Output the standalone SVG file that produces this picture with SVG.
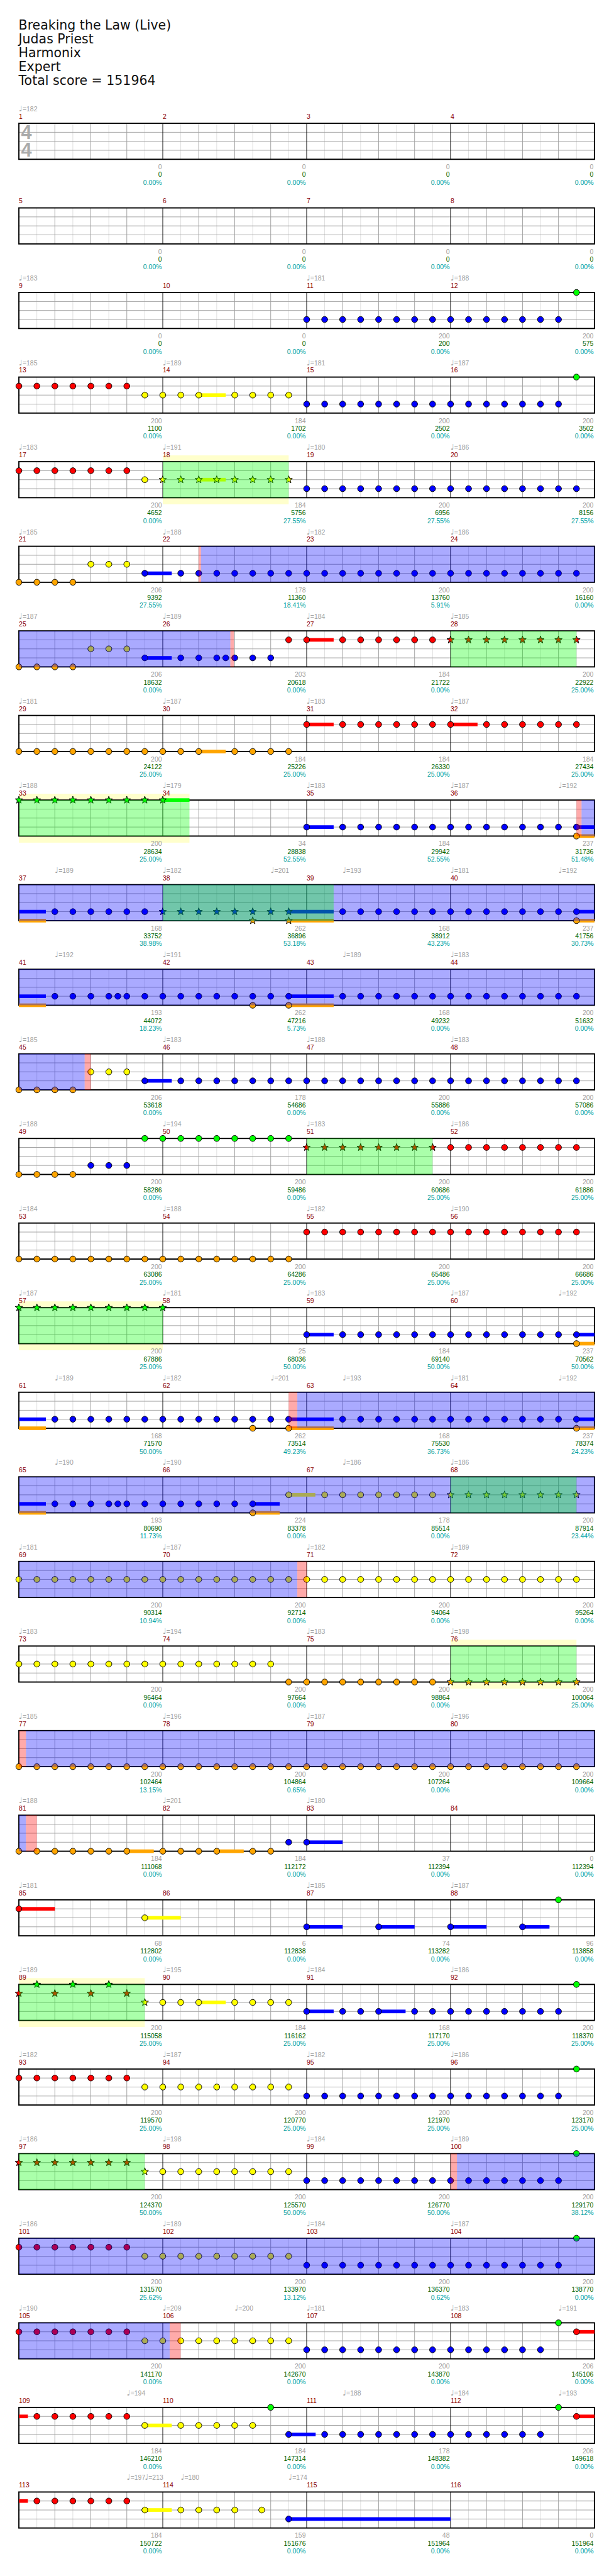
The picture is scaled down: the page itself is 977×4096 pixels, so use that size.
<svg xmlns="http://www.w3.org/2000/svg" xmlns:xlink="http://www.w3.org/1999/xlink" width="977" height="4096" viewBox="0 0 977 4096">
<style>
text{font-family:"Liberation Sans",Arial,sans-serif;font-size:11px}
.ti{font-family:"DejaVu Sans",sans-serif;font-size:21.5px;fill:#111}
.ts{font-family:"Liberation Sans",Arial,sans-serif;font-weight:bold;font-size:32px;fill:#aaa}
.tp{fill:#a0a0a0}
.q{font-family:"DejaVu Sans",sans-serif;font-size:13px}
.mn{fill:#8b0000}
.bn text{text-anchor:end}
.p1{fill:#a0a0a0}.p2{fill:#006400}.p3{fill:#00a0a0}
.nt circle,.nt use{stroke:#000;stroke-width:1}
.g{fill:#0f0}.r{fill:#f00}.y{fill:#ff0}.b{fill:#00f}.o{fill:#ffa500}
.og{fill:#0f0;fill-opacity:.333}.ob{fill:#00f;fill-opacity:.333}.op{fill:#f00;fill-opacity:.333}.yb{fill:#ffc}
</style>
<defs>
<g id="staff">
<rect width="960" height="60" fill="#fff"/>
<path d="M30 0V60M90 0V60M150 0V60M210 0V60M270 0V60M330 0V60M390 0V60M450 0V60M510 0V60M570 0V60M630 0V60M690 0V60M750 0V60M810 0V60M870 0V60M930 0V60" stroke="#dcdcdc"/>
<path d="M60 0V60M120 0V60M180 0V60M300 0V60M360 0V60M420 0V60M540 0V60M600 0V60M660 0V60M780 0V60M840 0V60M900 0V60M0 15H960M0 30H960M0 45H960" stroke="#a0a0a0"/>
<path d="M240 0V60M480 0V60M720 0V60" stroke="#000"/>
<rect width="960" height="60" fill="none" stroke="#000" stroke-width="2"/>
</g>
<path id="st" d="M0 -6.5L1.59 -2.18L6.18 -2.01L2.57 0.83L3.82 5.26L0 2.7L-3.82 5.26L-2.57 0.83L-6.18 -2.01L-1.59 -2.18Z"/>
</defs>
<rect width="977" height="4096" fill="#fff"/>
<g transform="scale(0.954)">
<g id="title" class="ti"><text class="ti" x="31" y="49.5">Breaking the Law (Live)</text><text class="ti" x="31" y="72.5">Judas Priest</text><text class="ti" x="31" y="95.5">Harmonix</text><text class="ti" x="31" y="118.5">Expert</text><text class="ti" x="31" y="141.5">Total score = 151964</text></g>

<g id="row1" transform="translate(31.5,205.5)">
<use href="#staff"/>
<text class="ts" x="3.5" y="26">4</text><text class="ts" x="3.5" y="56">4</text>
<text class="tp" x="0" y="-20"><tspan class="q">♩</tspan>=182</text>
<text class="mn" x="0" y="-7.5">1</text><text class="mn" x="240" y="-7.5">2</text><text class="mn" x="480" y="-7.5">3</text><text class="mn" x="720" y="-7.5">4</text>
<g class="bn"><text class="p1" x="238.5" y="76.5">0</text><text class="p2" x="238.5" y="89.5">0</text><text class="p3" x="238.5" y="102.5">0.00%</text><text class="p1" x="478.5" y="76.5">0</text><text class="p2" x="478.5" y="89.5">0</text><text class="p3" x="478.5" y="102.5">0.00%</text><text class="p1" x="718.5" y="76.5">0</text><text class="p2" x="718.5" y="89.5">0</text><text class="p3" x="718.5" y="102.5">0.00%</text><text class="p1" x="958.5" y="76.5">0</text><text class="p2" x="958.5" y="89.5">0</text><text class="p3" x="958.5" y="102.5">0.00%</text></g>
</g>

<g id="row2" transform="translate(31.5,346.5)">
<use href="#staff"/>
<text class="mn" x="0" y="-7.5">5</text><text class="mn" x="240" y="-7.5">6</text><text class="mn" x="480" y="-7.5">7</text><text class="mn" x="720" y="-7.5">8</text>
<g class="bn"><text class="p1" x="238.5" y="76.5">0</text><text class="p2" x="238.5" y="89.5">0</text><text class="p3" x="238.5" y="102.5">0.00%</text><text class="p1" x="478.5" y="76.5">0</text><text class="p2" x="478.5" y="89.5">0</text><text class="p3" x="478.5" y="102.5">0.00%</text><text class="p1" x="718.5" y="76.5">0</text><text class="p2" x="718.5" y="89.5">0</text><text class="p3" x="718.5" y="102.5">0.00%</text><text class="p1" x="958.5" y="76.5">0</text><text class="p2" x="958.5" y="89.5">0</text><text class="p3" x="958.5" y="102.5">0.00%</text></g>
</g>

<g id="row3" transform="translate(31.5,487.5)">
<use href="#staff"/>
<g class="nt">
<g class="b" transform="translate(0,45)"><circle cx="480" r="5"/><circle cx="510" r="5"/><circle cx="540" r="5"/><circle cx="570" r="5"/><circle cx="600" r="5"/><circle cx="630" r="5"/><circle cx="660" r="5"/><circle cx="690" r="5"/><circle cx="720" r="5"/><circle cx="750" r="5"/><circle cx="780" r="5"/><circle cx="810" r="5"/><circle cx="840" r="5"/><circle cx="870" r="5"/><circle cx="900" r="5"/></g>
<g class="g"><circle cx="930" r="5"/></g>
</g>
<text class="tp" x="0" y="-20"><tspan class="q">♩</tspan>=183</text><text class="tp" x="480" y="-20"><tspan class="q">♩</tspan>=181</text><text class="tp" x="720" y="-20"><tspan class="q">♩</tspan>=188</text>
<text class="mn" x="0" y="-7.5">9</text><text class="mn" x="240" y="-7.5">10</text><text class="mn" x="480" y="-7.5">11</text><text class="mn" x="720" y="-7.5">12</text>
<g class="bn"><text class="p1" x="238.5" y="76.5">0</text><text class="p2" x="238.5" y="89.5">0</text><text class="p3" x="238.5" y="102.5">0.00%</text><text class="p1" x="478.5" y="76.5">0</text><text class="p2" x="478.5" y="89.5">0</text><text class="p3" x="478.5" y="102.5">0.00%</text><text class="p1" x="718.5" y="76.5">200</text><text class="p2" x="718.5" y="89.5">200</text><text class="p3" x="718.5" y="102.5">0.00%</text><text class="p1" x="958.5" y="76.5">200</text><text class="p2" x="958.5" y="89.5">575</text><text class="p3" x="958.5" y="102.5">0.00%</text></g>
</g>

<g id="row4" transform="translate(31.5,628.5)">
<use href="#staff"/>
<rect class="y" x="300" y="27" width="45" height="6"/>
<g class="nt">
<g class="r" transform="translate(0,15)"><circle cx="0" r="5"/><circle cx="30" r="5"/><circle cx="60" r="5"/><circle cx="90" r="5"/><circle cx="120" r="5"/><circle cx="150" r="5"/><circle cx="180" r="5"/></g>
<g class="y" transform="translate(0,30)"><circle cx="210" r="5"/><circle cx="240" r="5"/><circle cx="270" r="5"/><circle cx="300" r="5"/><circle cx="360" r="5"/><circle cx="390" r="5"/><circle cx="420" r="5"/><circle cx="450" r="5"/></g>
<g class="b" transform="translate(0,45)"><circle cx="480" r="5"/><circle cx="510" r="5"/><circle cx="540" r="5"/><circle cx="570" r="5"/><circle cx="600" r="5"/><circle cx="630" r="5"/><circle cx="660" r="5"/><circle cx="690" r="5"/><circle cx="720" r="5"/><circle cx="750" r="5"/><circle cx="780" r="5"/><circle cx="810" r="5"/><circle cx="840" r="5"/><circle cx="870" r="5"/><circle cx="900" r="5"/></g>
<g class="g"><circle cx="930" r="5"/></g>
</g>
<text class="tp" x="0" y="-20"><tspan class="q">♩</tspan>=185</text><text class="tp" x="240" y="-20"><tspan class="q">♩</tspan>=189</text><text class="tp" x="480" y="-20"><tspan class="q">♩</tspan>=181</text><text class="tp" x="720" y="-20"><tspan class="q">♩</tspan>=187</text>
<text class="mn" x="0" y="-7.5">13</text><text class="mn" x="240" y="-7.5">14</text><text class="mn" x="480" y="-7.5">15</text><text class="mn" x="720" y="-7.5">16</text>
<g class="bn"><text class="p1" x="238.5" y="76.5">200</text><text class="p2" x="238.5" y="89.5">1100</text><text class="p3" x="238.5" y="102.5">0.00%</text><text class="p1" x="478.5" y="76.5">184</text><text class="p2" x="478.5" y="89.5">1702</text><text class="p3" x="478.5" y="102.5">0.00%</text><text class="p1" x="718.5" y="76.5">200</text><text class="p2" x="718.5" y="89.5">2502</text><text class="p3" x="718.5" y="102.5">0.00%</text><text class="p1" x="958.5" y="76.5">200</text><text class="p2" x="958.5" y="89.5">3502</text><text class="p3" x="958.5" y="102.5">0.00%</text></g>
</g>

<g id="row5" transform="translate(31.5,769.5)">
<rect class="yb" x="240" y="-10.5" width="210" height="81.5"/>
<use href="#staff"/>
<rect class="y" x="300" y="27" width="45" height="6"/>
<g class="nt">
<g class="r" transform="translate(0,15)"><circle cx="0" r="5"/><circle cx="30" r="5"/><circle cx="60" r="5"/><circle cx="90" r="5"/><circle cx="120" r="5"/><circle cx="150" r="5"/><circle cx="180" r="5"/></g>
<g class="y" transform="translate(0,30)"><circle cx="210" r="5"/><use href="#st" x="240"/><use href="#st" x="270"/><use href="#st" x="300"/><use href="#st" x="330"/><use href="#st" x="360"/><use href="#st" x="390"/><use href="#st" x="420"/><use href="#st" x="450"/></g>
<g class="b" transform="translate(0,45)"><circle cx="480" r="5"/><circle cx="510" r="5"/><circle cx="540" r="5"/><circle cx="570" r="5"/><circle cx="600" r="5"/><circle cx="630" r="5"/><circle cx="660" r="5"/><circle cx="690" r="5"/><circle cx="720" r="5"/><circle cx="750" r="5"/><circle cx="780" r="5"/><circle cx="810" r="5"/><circle cx="840" r="5"/><circle cx="870" r="5"/><circle cx="900" r="5"/><circle cx="930" r="5"/></g>
</g>
<rect class="og" x="240" y="0" width="210" height="60"/>
<text class="tp" x="0" y="-20"><tspan class="q">♩</tspan>=183</text><text class="tp" x="240" y="-20"><tspan class="q">♩</tspan>=191</text><text class="tp" x="480" y="-20"><tspan class="q">♩</tspan>=180</text><text class="tp" x="720" y="-20"><tspan class="q">♩</tspan>=186</text>
<text class="mn" x="0" y="-7.5">17</text><text class="mn" x="240" y="-7.5">18</text><text class="mn" x="480" y="-7.5">19</text><text class="mn" x="720" y="-7.5">20</text>
<g class="bn"><text class="p1" x="238.5" y="76.5">200</text><text class="p2" x="238.5" y="89.5">4652</text><text class="p3" x="238.5" y="102.5">0.00%</text><text class="p1" x="478.5" y="76.5">184</text><text class="p2" x="478.5" y="89.5">5756</text><text class="p3" x="478.5" y="102.5">27.55%</text><text class="p1" x="718.5" y="76.5">200</text><text class="p2" x="718.5" y="89.5">6956</text><text class="p3" x="718.5" y="102.5">27.55%</text><text class="p1" x="958.5" y="76.5">200</text><text class="p2" x="958.5" y="89.5">8156</text><text class="p3" x="958.5" y="102.5">27.55%</text></g>
</g>

<g id="row6" transform="translate(31.5,910.5)">
<use href="#staff"/>
<rect class="b" x="210" y="42" width="45" height="6"/>
<g class="nt">
<g class="y" transform="translate(0,30)"><circle cx="120" r="5"/><circle cx="150" r="5"/><circle cx="180" r="5"/></g>
<g class="b" transform="translate(0,45)"><circle cx="210" r="5"/><circle cx="270" r="5"/><circle cx="300" r="5"/><circle cx="330" r="5"/><circle cx="360" r="5"/><circle cx="390" r="5"/><circle cx="420" r="5"/><circle cx="450" r="5"/><circle cx="480" r="5"/><circle cx="510" r="5"/><circle cx="540" r="5"/><circle cx="570" r="5"/><circle cx="600" r="5"/><circle cx="630" r="5"/><circle cx="660" r="5"/><circle cx="690" r="5"/><circle cx="720" r="5"/><circle cx="750" r="5"/><circle cx="780" r="5"/><circle cx="810" r="5"/><circle cx="840" r="5"/><circle cx="870" r="5"/><circle cx="900" r="5"/><circle cx="930" r="5"/></g>
<g class="o" transform="translate(0,60)"><circle cx="0" r="5"/><circle cx="30" r="5"/><circle cx="60" r="5"/><circle cx="90" r="5"/></g>
</g>
<rect class="op" x="299.8" y="0" width="3.9" height="60"/><rect class="ob" x="303.7" y="0" width="656.3" height="60"/>
<text class="tp" x="0" y="-20"><tspan class="q">♩</tspan>=185</text><text class="tp" x="240" y="-20"><tspan class="q">♩</tspan>=188</text><text class="tp" x="480" y="-20"><tspan class="q">♩</tspan>=182</text><text class="tp" x="720" y="-20"><tspan class="q">♩</tspan>=186</text>
<text class="mn" x="0" y="-7.5">21</text><text class="mn" x="240" y="-7.5">22</text><text class="mn" x="480" y="-7.5">23</text><text class="mn" x="720" y="-7.5">24</text>
<g class="bn"><text class="p1" x="238.5" y="76.5">206</text><text class="p2" x="238.5" y="89.5">9392</text><text class="p3" x="238.5" y="102.5">27.55%</text><text class="p1" x="478.5" y="76.5">178</text><text class="p2" x="478.5" y="89.5">11360</text><text class="p3" x="478.5" y="102.5">18.41%</text><text class="p1" x="718.5" y="76.5">200</text><text class="p2" x="718.5" y="89.5">13760</text><text class="p3" x="718.5" y="102.5">5.91%</text><text class="p1" x="958.5" y="76.5">200</text><text class="p2" x="958.5" y="89.5">16160</text><text class="p3" x="958.5" y="102.5">0.00%</text></g>
</g>

<g id="row7" transform="translate(31.5,1051.5)">
<use href="#staff"/>
<rect class="b" x="210" y="42" width="45" height="6"/><rect class="r" x="480" y="12" width="45" height="6"/>
<g class="nt">
<g class="r" transform="translate(0,15)"><circle cx="450" r="5"/><circle cx="480" r="5"/><circle cx="540" r="5"/><circle cx="570" r="5"/><circle cx="600" r="5"/><circle cx="630" r="5"/><circle cx="660" r="5"/><circle cx="690" r="5"/><use href="#st" x="720"/><use href="#st" x="750"/><use href="#st" x="780"/><use href="#st" x="810"/><use href="#st" x="840"/><use href="#st" x="870"/><use href="#st" x="900"/><use href="#st" x="930"/></g>
<g class="y" transform="translate(0,30)"><circle cx="120" r="5"/><circle cx="150" r="5"/><circle cx="180" r="5"/></g>
<g class="b" transform="translate(0,45)"><circle cx="210" r="5"/><circle cx="270" r="5"/><circle cx="300" r="5"/><circle cx="330" r="5"/><circle cx="345" r="5"/><circle cx="360" r="5"/><circle cx="390" r="5"/><circle cx="420" r="5"/></g>
<g class="o" transform="translate(0,60)"><circle cx="0" r="5"/><circle cx="30" r="5"/><circle cx="60" r="5"/><circle cx="90" r="5"/></g>
</g>
<rect class="ob" x="0" y="0" width="352.7" height="60"/><rect class="op" x="352.7" y="0" width="5.8" height="60"/><rect class="og" x="720" y="0" width="210" height="60"/>
<text class="tp" x="0" y="-20"><tspan class="q">♩</tspan>=187</text><text class="tp" x="240" y="-20"><tspan class="q">♩</tspan>=189</text><text class="tp" x="480" y="-20"><tspan class="q">♩</tspan>=184</text><text class="tp" x="720" y="-20"><tspan class="q">♩</tspan>=185</text>
<text class="mn" x="0" y="-7.5">25</text><text class="mn" x="240" y="-7.5">26</text><text class="mn" x="480" y="-7.5">27</text><text class="mn" x="720" y="-7.5">28</text>
<g class="bn"><text class="p1" x="238.5" y="76.5">206</text><text class="p2" x="238.5" y="89.5">18632</text><text class="p3" x="238.5" y="102.5">0.00%</text><text class="p1" x="478.5" y="76.5">203</text><text class="p2" x="478.5" y="89.5">20618</text><text class="p3" x="478.5" y="102.5">0.00%</text><text class="p1" x="718.5" y="76.5">184</text><text class="p2" x="718.5" y="89.5">21722</text><text class="p3" x="718.5" y="102.5">0.00%</text><text class="p1" x="958.5" y="76.5">200</text><text class="p2" x="958.5" y="89.5">22922</text><text class="p3" x="958.5" y="102.5">25.00%</text></g>
</g>

<g id="row8" transform="translate(31.5,1192.5)">
<use href="#staff"/>
<rect class="o" x="300" y="57" width="45" height="6"/><rect class="r" x="480" y="12" width="45" height="6"/><rect class="r" x="720" y="12" width="45" height="6"/>
<g class="nt">
<g class="r" transform="translate(0,15)"><circle cx="480" r="5"/><circle cx="540" r="5"/><circle cx="570" r="5"/><circle cx="600" r="5"/><circle cx="630" r="5"/><circle cx="660" r="5"/><circle cx="690" r="5"/><circle cx="720" r="5"/><circle cx="780" r="5"/><circle cx="810" r="5"/><circle cx="840" r="5"/><circle cx="870" r="5"/><circle cx="900" r="5"/><circle cx="930" r="5"/></g>
<g class="o" transform="translate(0,60)"><circle cx="0" r="5"/><circle cx="30" r="5"/><circle cx="60" r="5"/><circle cx="90" r="5"/><circle cx="120" r="5"/><circle cx="150" r="5"/><circle cx="180" r="5"/><circle cx="210" r="5"/><circle cx="240" r="5"/><circle cx="270" r="5"/><circle cx="300" r="5"/><circle cx="360" r="5"/><circle cx="390" r="5"/><circle cx="420" r="5"/><circle cx="450" r="5"/></g>
</g>
<text class="tp" x="0" y="-20"><tspan class="q">♩</tspan>=181</text><text class="tp" x="240" y="-20"><tspan class="q">♩</tspan>=187</text><text class="tp" x="480" y="-20"><tspan class="q">♩</tspan>=183</text><text class="tp" x="720" y="-20"><tspan class="q">♩</tspan>=187</text>
<text class="mn" x="0" y="-7.5">29</text><text class="mn" x="240" y="-7.5">30</text><text class="mn" x="480" y="-7.5">31</text><text class="mn" x="720" y="-7.5">32</text>
<g class="bn"><text class="p1" x="238.5" y="76.5">200</text><text class="p2" x="238.5" y="89.5">24122</text><text class="p3" x="238.5" y="102.5">25.00%</text><text class="p1" x="478.5" y="76.5">184</text><text class="p2" x="478.5" y="89.5">25226</text><text class="p3" x="478.5" y="102.5">25.00%</text><text class="p1" x="718.5" y="76.5">184</text><text class="p2" x="718.5" y="89.5">26330</text><text class="p3" x="718.5" y="102.5">25.00%</text><text class="p1" x="958.5" y="76.5">184</text><text class="p2" x="958.5" y="89.5">27434</text><text class="p3" x="958.5" y="102.5">25.00%</text></g>
</g>

<g id="row9" transform="translate(31.5,1333.5)">
<rect class="yb" x="0" y="-10.5" width="284.5" height="81.5"/>
<use href="#staff"/>
<rect class="g" x="240" y="-3" width="44.5" height="6"/><rect class="b" x="480" y="42" width="45" height="6"/><rect class="b" x="930" y="42" width="30" height="6"/><rect class="o" x="930" y="57" width="30" height="6"/>
<g class="nt">
<g class="g"><use href="#st" x="0"/><use href="#st" x="30"/><use href="#st" x="60"/><use href="#st" x="90"/><use href="#st" x="120"/><use href="#st" x="150"/><use href="#st" x="180"/><use href="#st" x="210"/><use href="#st" x="240"/></g>
<g class="b" transform="translate(0,45)"><circle cx="480" r="5"/><circle cx="540" r="5"/><circle cx="570" r="5"/><circle cx="600" r="5"/><circle cx="630" r="5"/><circle cx="660" r="5"/><circle cx="690" r="5"/><circle cx="720" r="5"/><circle cx="750" r="5"/><circle cx="780" r="5"/><circle cx="810" r="5"/><circle cx="840" r="5"/><circle cx="870" r="5"/><circle cx="900" r="5"/><circle cx="930" r="5"/></g>
<g class="o" transform="translate(0,60)"><circle cx="930" r="5"/></g>
</g>
<rect class="og" x="0" y="0" width="284.5" height="60"/><rect class="op" x="930" y="0" width="8.5" height="60"/><rect class="ob" x="938.5" y="0" width="21.5" height="60"/>
<text class="tp" x="0" y="-20"><tspan class="q">♩</tspan>=188</text><text class="tp" x="240" y="-20"><tspan class="q">♩</tspan>=179</text><text class="tp" x="480" y="-20"><tspan class="q">♩</tspan>=183</text><text class="tp" x="720" y="-20"><tspan class="q">♩</tspan>=187</text><text class="tp" x="900" y="-20"><tspan class="q">♩</tspan>=192</text>
<text class="mn" x="0" y="-7.5">33</text><text class="mn" x="240" y="-7.5">34</text><text class="mn" x="480" y="-7.5">35</text><text class="mn" x="720" y="-7.5">36</text>
<g class="bn"><text class="p1" x="238.5" y="76.5">200</text><text class="p2" x="238.5" y="89.5">28634</text><text class="p3" x="238.5" y="102.5">25.00%</text><text class="p1" x="478.5" y="76.5">34</text><text class="p2" x="478.5" y="89.5">28838</text><text class="p3" x="478.5" y="102.5">52.55%</text><text class="p1" x="718.5" y="76.5">184</text><text class="p2" x="718.5" y="89.5">29942</text><text class="p3" x="718.5" y="102.5">52.55%</text><text class="p1" x="958.5" y="76.5">237</text><text class="p2" x="958.5" y="89.5">31736</text><text class="p3" x="958.5" y="102.5">51.48%</text></g>
</g>

<g id="row10" transform="translate(31.5,1474.5)">
<use href="#staff"/>
<rect class="b" x="0" y="42" width="45" height="6"/><rect class="o" x="0" y="57" width="45" height="6"/><rect class="b" x="450" y="42" width="75" height="6"/><rect class="o" x="450" y="57" width="75" height="6"/><rect class="b" x="930" y="42" width="30" height="6"/><rect class="o" x="930" y="57" width="30" height="6"/>
<g class="nt">
<g class="b" transform="translate(0,45)"><circle cx="60" r="5"/><circle cx="90" r="5"/><circle cx="120" r="5"/><circle cx="150" r="5"/><circle cx="180" r="5"/><circle cx="210" r="5"/><use href="#st" x="240"/><use href="#st" x="270"/><use href="#st" x="300"/><use href="#st" x="330"/><use href="#st" x="360"/><use href="#st" x="390"/><use href="#st" x="420"/><use href="#st" x="450"/><circle cx="540" r="5"/><circle cx="570" r="5"/><circle cx="600" r="5"/><circle cx="630" r="5"/><circle cx="660" r="5"/><circle cx="690" r="5"/><circle cx="720" r="5"/><circle cx="750" r="5"/><circle cx="780" r="5"/><circle cx="810" r="5"/><circle cx="840" r="5"/><circle cx="870" r="5"/><circle cx="900" r="5"/><circle cx="930" r="5"/></g>
<g class="o" transform="translate(0,60)"><use href="#st" x="390"/><use href="#st" x="450"/><circle cx="930" r="5"/></g>
</g>
<rect class="ob" x="0" y="0" width="960" height="60"/><rect class="og" x="240" y="0" width="285" height="60"/>
<text class="tp" x="60" y="-20"><tspan class="q">♩</tspan>=189</text><text class="tp" x="240" y="-20"><tspan class="q">♩</tspan>=182</text><text class="tp" x="420" y="-20"><tspan class="q">♩</tspan>=201</text><text class="tp" x="540" y="-20"><tspan class="q">♩</tspan>=193</text><text class="tp" x="720" y="-20"><tspan class="q">♩</tspan>=181</text><text class="tp" x="900" y="-20"><tspan class="q">♩</tspan>=192</text>
<text class="mn" x="0" y="-7.5">37</text><text class="mn" x="240" y="-7.5">38</text><text class="mn" x="480" y="-7.5">39</text><text class="mn" x="720" y="-7.5">40</text>
<g class="bn"><text class="p1" x="238.5" y="76.5">168</text><text class="p2" x="238.5" y="89.5">33752</text><text class="p3" x="238.5" y="102.5">38.98%</text><text class="p1" x="478.5" y="76.5">262</text><text class="p2" x="478.5" y="89.5">36896</text><text class="p3" x="478.5" y="102.5">53.18%</text><text class="p1" x="718.5" y="76.5">168</text><text class="p2" x="718.5" y="89.5">38912</text><text class="p3" x="718.5" y="102.5">43.23%</text><text class="p1" x="958.5" y="76.5">237</text><text class="p2" x="958.5" y="89.5">41756</text><text class="p3" x="958.5" y="102.5">30.73%</text></g>
</g>

<g id="row11" transform="translate(31.5,1615.5)">
<use href="#staff"/>
<rect class="b" x="0" y="42" width="45" height="6"/><rect class="o" x="0" y="57" width="45" height="6"/><rect class="b" x="450" y="42" width="75" height="6"/><rect class="o" x="450" y="57" width="75" height="6"/>
<g class="nt">
<g class="b" transform="translate(0,45)"><circle cx="60" r="5"/><circle cx="90" r="5"/><circle cx="120" r="5"/><circle cx="150" r="5"/><circle cx="165" r="5"/><circle cx="180" r="5"/><circle cx="210" r="5"/><circle cx="240" r="5"/><circle cx="270" r="5"/><circle cx="300" r="5"/><circle cx="330" r="5"/><circle cx="360" r="5"/><circle cx="390" r="5"/><circle cx="420" r="5"/><circle cx="450" r="5"/><circle cx="540" r="5"/><circle cx="570" r="5"/><circle cx="600" r="5"/><circle cx="630" r="5"/><circle cx="660" r="5"/><circle cx="690" r="5"/><circle cx="720" r="5"/><circle cx="750" r="5"/><circle cx="780" r="5"/><circle cx="810" r="5"/><circle cx="840" r="5"/><circle cx="870" r="5"/><circle cx="900" r="5"/><circle cx="930" r="5"/></g>
<g class="o" transform="translate(0,60)"><circle cx="390" r="5"/><circle cx="450" r="5"/></g>
</g>
<rect class="ob" x="0" y="0" width="960" height="60"/>
<text class="tp" x="60" y="-20"><tspan class="q">♩</tspan>=192</text><text class="tp" x="240" y="-20"><tspan class="q">♩</tspan>=191</text><text class="tp" x="540" y="-20"><tspan class="q">♩</tspan>=189</text><text class="tp" x="720" y="-20"><tspan class="q">♩</tspan>=183</text>
<text class="mn" x="0" y="-7.5">41</text><text class="mn" x="240" y="-7.5">42</text><text class="mn" x="480" y="-7.5">43</text><text class="mn" x="720" y="-7.5">44</text>
<g class="bn"><text class="p1" x="238.5" y="76.5">193</text><text class="p2" x="238.5" y="89.5">44072</text><text class="p3" x="238.5" y="102.5">18.23%</text><text class="p1" x="478.5" y="76.5">262</text><text class="p2" x="478.5" y="89.5">47216</text><text class="p3" x="478.5" y="102.5">5.73%</text><text class="p1" x="718.5" y="76.5">168</text><text class="p2" x="718.5" y="89.5">49232</text><text class="p3" x="718.5" y="102.5">0.00%</text><text class="p1" x="958.5" y="76.5">200</text><text class="p2" x="958.5" y="89.5">51632</text><text class="p3" x="958.5" y="102.5">0.00%</text></g>
</g>

<g id="row12" transform="translate(31.5,1756.5)">
<use href="#staff"/>
<rect class="b" x="210" y="42" width="45" height="6"/>
<g class="nt">
<g class="y" transform="translate(0,30)"><circle cx="120" r="5"/><circle cx="150" r="5"/><circle cx="180" r="5"/></g>
<g class="b" transform="translate(0,45)"><circle cx="210" r="5"/><circle cx="270" r="5"/><circle cx="300" r="5"/><circle cx="330" r="5"/><circle cx="360" r="5"/><circle cx="390" r="5"/><circle cx="420" r="5"/><circle cx="450" r="5"/><circle cx="480" r="5"/><circle cx="510" r="5"/><circle cx="540" r="5"/><circle cx="570" r="5"/><circle cx="600" r="5"/><circle cx="630" r="5"/><circle cx="660" r="5"/><circle cx="690" r="5"/><circle cx="720" r="5"/><circle cx="750" r="5"/><circle cx="780" r="5"/><circle cx="810" r="5"/><circle cx="840" r="5"/><circle cx="870" r="5"/><circle cx="900" r="5"/><circle cx="930" r="5"/></g>
<g class="o" transform="translate(0,60)"><circle cx="0" r="5"/><circle cx="30" r="5"/><circle cx="60" r="5"/><circle cx="90" r="5"/></g>
</g>
<rect class="ob" x="0" y="0" width="109.7" height="60"/><rect class="op" x="109.7" y="0" width="10.3" height="60"/>
<text class="tp" x="0" y="-20"><tspan class="q">♩</tspan>=185</text><text class="tp" x="240" y="-20"><tspan class="q">♩</tspan>=183</text><text class="tp" x="480" y="-20"><tspan class="q">♩</tspan>=188</text><text class="tp" x="720" y="-20"><tspan class="q">♩</tspan>=183</text>
<text class="mn" x="0" y="-7.5">45</text><text class="mn" x="240" y="-7.5">46</text><text class="mn" x="480" y="-7.5">47</text><text class="mn" x="720" y="-7.5">48</text>
<g class="bn"><text class="p1" x="238.5" y="76.5">206</text><text class="p2" x="238.5" y="89.5">53618</text><text class="p3" x="238.5" y="102.5">0.00%</text><text class="p1" x="478.5" y="76.5">178</text><text class="p2" x="478.5" y="89.5">54686</text><text class="p3" x="478.5" y="102.5">0.00%</text><text class="p1" x="718.5" y="76.5">200</text><text class="p2" x="718.5" y="89.5">55886</text><text class="p3" x="718.5" y="102.5">0.00%</text><text class="p1" x="958.5" y="76.5">200</text><text class="p2" x="958.5" y="89.5">57086</text><text class="p3" x="958.5" y="102.5">0.00%</text></g>
</g>

<g id="row13" transform="translate(31.5,1897.5)">
<use href="#staff"/>
<g class="nt">
<g class="g"><circle cx="210" r="5"/><circle cx="240" r="5"/><circle cx="270" r="5"/><circle cx="300" r="5"/><circle cx="330" r="5"/><circle cx="360" r="5"/><circle cx="390" r="5"/><circle cx="420" r="5"/><circle cx="450" r="5"/></g>
<g class="r" transform="translate(0,15)"><use href="#st" x="480"/><use href="#st" x="510"/><use href="#st" x="540"/><use href="#st" x="570"/><use href="#st" x="600"/><use href="#st" x="630"/><use href="#st" x="660"/><use href="#st" x="690"/><circle cx="720" r="5"/><circle cx="750" r="5"/><circle cx="780" r="5"/><circle cx="810" r="5"/><circle cx="840" r="5"/><circle cx="870" r="5"/><circle cx="900" r="5"/><circle cx="930" r="5"/></g>
<g class="b" transform="translate(0,45)"><circle cx="120" r="5"/><circle cx="150" r="5"/><circle cx="180" r="5"/></g>
<g class="o" transform="translate(0,60)"><circle cx="0" r="5"/><circle cx="30" r="5"/><circle cx="60" r="5"/><circle cx="90" r="5"/></g>
</g>
<rect class="og" x="480" y="0" width="210" height="60"/>
<text class="tp" x="0" y="-20"><tspan class="q">♩</tspan>=188</text><text class="tp" x="240" y="-20"><tspan class="q">♩</tspan>=194</text><text class="tp" x="480" y="-20"><tspan class="q">♩</tspan>=183</text><text class="tp" x="720" y="-20"><tspan class="q">♩</tspan>=186</text>
<text class="mn" x="0" y="-7.5">49</text><text class="mn" x="240" y="-7.5">50</text><text class="mn" x="480" y="-7.5">51</text><text class="mn" x="720" y="-7.5">52</text>
<g class="bn"><text class="p1" x="238.5" y="76.5">200</text><text class="p2" x="238.5" y="89.5">58286</text><text class="p3" x="238.5" y="102.5">0.00%</text><text class="p1" x="478.5" y="76.5">200</text><text class="p2" x="478.5" y="89.5">59486</text><text class="p3" x="478.5" y="102.5">0.00%</text><text class="p1" x="718.5" y="76.5">200</text><text class="p2" x="718.5" y="89.5">60686</text><text class="p3" x="718.5" y="102.5">25.00%</text><text class="p1" x="958.5" y="76.5">200</text><text class="p2" x="958.5" y="89.5">61886</text><text class="p3" x="958.5" y="102.5">25.00%</text></g>
</g>

<g id="row14" transform="translate(31.5,2038.5)">
<use href="#staff"/>
<g class="nt">
<g class="r" transform="translate(0,15)"><circle cx="480" r="5"/><circle cx="510" r="5"/><circle cx="540" r="5"/><circle cx="570" r="5"/><circle cx="600" r="5"/><circle cx="630" r="5"/><circle cx="660" r="5"/><circle cx="690" r="5"/><circle cx="720" r="5"/><circle cx="750" r="5"/><circle cx="780" r="5"/><circle cx="810" r="5"/><circle cx="840" r="5"/><circle cx="870" r="5"/><circle cx="900" r="5"/><circle cx="930" r="5"/></g>
<g class="o" transform="translate(0,60)"><circle cx="0" r="5"/><circle cx="30" r="5"/><circle cx="60" r="5"/><circle cx="90" r="5"/><circle cx="120" r="5"/><circle cx="150" r="5"/><circle cx="180" r="5"/><circle cx="210" r="5"/><circle cx="240" r="5"/><circle cx="270" r="5"/><circle cx="300" r="5"/><circle cx="330" r="5"/><circle cx="360" r="5"/><circle cx="390" r="5"/><circle cx="420" r="5"/><circle cx="450" r="5"/></g>
</g>
<text class="tp" x="0" y="-20"><tspan class="q">♩</tspan>=184</text><text class="tp" x="240" y="-20"><tspan class="q">♩</tspan>=188</text><text class="tp" x="480" y="-20"><tspan class="q">♩</tspan>=182</text><text class="tp" x="720" y="-20"><tspan class="q">♩</tspan>=190</text>
<text class="mn" x="0" y="-7.5">53</text><text class="mn" x="240" y="-7.5">54</text><text class="mn" x="480" y="-7.5">55</text><text class="mn" x="720" y="-7.5">56</text>
<g class="bn"><text class="p1" x="238.5" y="76.5">200</text><text class="p2" x="238.5" y="89.5">63086</text><text class="p3" x="238.5" y="102.5">25.00%</text><text class="p1" x="478.5" y="76.5">200</text><text class="p2" x="478.5" y="89.5">64286</text><text class="p3" x="478.5" y="102.5">25.00%</text><text class="p1" x="718.5" y="76.5">200</text><text class="p2" x="718.5" y="89.5">65486</text><text class="p3" x="718.5" y="102.5">25.00%</text><text class="p1" x="958.5" y="76.5">200</text><text class="p2" x="958.5" y="89.5">66686</text><text class="p3" x="958.5" y="102.5">25.00%</text></g>
</g>

<g id="row15" transform="translate(31.5,2179.5)">
<rect class="yb" x="0" y="-10.5" width="240" height="81.5"/>
<use href="#staff"/>
<rect class="b" x="480" y="42" width="45" height="6"/><rect class="b" x="930" y="42" width="30" height="6"/><rect class="o" x="930" y="57" width="30" height="6"/>
<g class="nt">
<g class="g"><use href="#st" x="0"/><use href="#st" x="30"/><use href="#st" x="60"/><use href="#st" x="90"/><use href="#st" x="120"/><use href="#st" x="150"/><use href="#st" x="180"/><use href="#st" x="210"/><use href="#st" x="240"/></g>
<g class="b" transform="translate(0,45)"><circle cx="480" r="5"/><circle cx="540" r="5"/><circle cx="570" r="5"/><circle cx="600" r="5"/><circle cx="630" r="5"/><circle cx="660" r="5"/><circle cx="690" r="5"/><circle cx="720" r="5"/><circle cx="750" r="5"/><circle cx="780" r="5"/><circle cx="810" r="5"/><circle cx="840" r="5"/><circle cx="870" r="5"/><circle cx="900" r="5"/><circle cx="930" r="5"/></g>
<g class="o" transform="translate(0,60)"><circle cx="930" r="5"/></g>
</g>
<rect class="og" x="0" y="0" width="240" height="60"/>
<text class="tp" x="0" y="-20"><tspan class="q">♩</tspan>=187</text><text class="tp" x="240" y="-20"><tspan class="q">♩</tspan>=181</text><text class="tp" x="480" y="-20"><tspan class="q">♩</tspan>=183</text><text class="tp" x="720" y="-20"><tspan class="q">♩</tspan>=187</text><text class="tp" x="900" y="-20"><tspan class="q">♩</tspan>=192</text>
<text class="mn" x="0" y="-7.5">57</text><text class="mn" x="240" y="-7.5">58</text><text class="mn" x="480" y="-7.5">59</text><text class="mn" x="720" y="-7.5">60</text>
<g class="bn"><text class="p1" x="238.5" y="76.5">200</text><text class="p2" x="238.5" y="89.5">67886</text><text class="p3" x="238.5" y="102.5">25.00%</text><text class="p1" x="478.5" y="76.5">25</text><text class="p2" x="478.5" y="89.5">68036</text><text class="p3" x="478.5" y="102.5">50.00%</text><text class="p1" x="718.5" y="76.5">184</text><text class="p2" x="718.5" y="89.5">69140</text><text class="p3" x="718.5" y="102.5">50.00%</text><text class="p1" x="958.5" y="76.5">237</text><text class="p2" x="958.5" y="89.5">70562</text><text class="p3" x="958.5" y="102.5">50.00%</text></g>
</g>

<g id="row16" transform="translate(31.5,2320.5)">
<use href="#staff"/>
<rect class="b" x="0" y="42" width="45" height="6"/><rect class="o" x="0" y="57" width="45" height="6"/><rect class="b" x="450" y="42" width="75" height="6"/><rect class="o" x="450" y="57" width="75" height="6"/><rect class="b" x="930" y="42" width="30" height="6"/><rect class="o" x="930" y="57" width="30" height="6"/>
<g class="nt">
<g class="b" transform="translate(0,45)"><circle cx="60" r="5"/><circle cx="90" r="5"/><circle cx="120" r="5"/><circle cx="150" r="5"/><circle cx="180" r="5"/><circle cx="210" r="5"/><circle cx="240" r="5"/><circle cx="270" r="5"/><circle cx="300" r="5"/><circle cx="330" r="5"/><circle cx="360" r="5"/><circle cx="390" r="5"/><circle cx="420" r="5"/><circle cx="450" r="5"/><circle cx="540" r="5"/><circle cx="570" r="5"/><circle cx="600" r="5"/><circle cx="630" r="5"/><circle cx="660" r="5"/><circle cx="690" r="5"/><circle cx="720" r="5"/><circle cx="750" r="5"/><circle cx="780" r="5"/><circle cx="810" r="5"/><circle cx="840" r="5"/><circle cx="870" r="5"/><circle cx="900" r="5"/><circle cx="930" r="5"/></g>
<g class="o" transform="translate(0,60)"><circle cx="390" r="5"/><circle cx="450" r="5"/><circle cx="930" r="5"/></g>
</g>
<rect class="op" x="450" y="0" width="14.4" height="60"/><rect class="ob" x="464.4" y="0" width="495.6" height="60"/>
<text class="tp" x="60" y="-20"><tspan class="q">♩</tspan>=189</text><text class="tp" x="240" y="-20"><tspan class="q">♩</tspan>=182</text><text class="tp" x="420" y="-20"><tspan class="q">♩</tspan>=201</text><text class="tp" x="540" y="-20"><tspan class="q">♩</tspan>=193</text><text class="tp" x="720" y="-20"><tspan class="q">♩</tspan>=181</text><text class="tp" x="900" y="-20"><tspan class="q">♩</tspan>=192</text>
<text class="mn" x="0" y="-7.5">61</text><text class="mn" x="240" y="-7.5">62</text><text class="mn" x="480" y="-7.5">63</text><text class="mn" x="720" y="-7.5">64</text>
<g class="bn"><text class="p1" x="238.5" y="76.5">168</text><text class="p2" x="238.5" y="89.5">71570</text><text class="p3" x="238.5" y="102.5">50.00%</text><text class="p1" x="478.5" y="76.5">262</text><text class="p2" x="478.5" y="89.5">73514</text><text class="p3" x="478.5" y="102.5">49.23%</text><text class="p1" x="718.5" y="76.5">168</text><text class="p2" x="718.5" y="89.5">75530</text><text class="p3" x="718.5" y="102.5">36.73%</text><text class="p1" x="958.5" y="76.5">237</text><text class="p2" x="958.5" y="89.5">78374</text><text class="p3" x="958.5" y="102.5">24.23%</text></g>
</g>

<g id="row17" transform="translate(31.5,2461.5)">
<use href="#staff"/>
<rect class="b" x="0" y="42" width="45" height="6"/><rect class="o" x="0" y="57" width="45" height="6"/><rect class="b" x="390" y="42" width="45" height="6"/><rect class="o" x="390" y="57" width="45" height="6"/><rect class="y" x="450" y="27" width="44.5" height="6"/>
<g class="nt">
<g class="y" transform="translate(0,30)"><circle cx="450" r="5"/><circle cx="510" r="5"/><circle cx="540" r="5"/><circle cx="570" r="5"/><circle cx="600" r="5"/><circle cx="630" r="5"/><circle cx="660" r="5"/><circle cx="690" r="5"/><use href="#st" x="720"/><use href="#st" x="750"/><use href="#st" x="780"/><use href="#st" x="810"/><use href="#st" x="840"/><use href="#st" x="870"/><use href="#st" x="900"/><use href="#st" x="930"/></g>
<g class="b" transform="translate(0,45)"><circle cx="60" r="5"/><circle cx="90" r="5"/><circle cx="120" r="5"/><circle cx="150" r="5"/><circle cx="165" r="5"/><circle cx="180" r="5"/><circle cx="210" r="5"/><circle cx="240" r="5"/><circle cx="270" r="5"/><circle cx="300" r="5"/><circle cx="330" r="5"/><circle cx="360" r="5"/><circle cx="390" r="5"/></g>
<g class="o" transform="translate(0,60)"><circle cx="390" r="5"/></g>
</g>
<rect class="ob" x="0" y="0" width="960" height="60"/><rect class="og" x="720" y="0" width="210" height="60"/>
<text class="tp" x="60" y="-20"><tspan class="q">♩</tspan>=190</text><text class="tp" x="240" y="-20"><tspan class="q">♩</tspan>=190</text><text class="tp" x="540" y="-20"><tspan class="q">♩</tspan>=186</text><text class="tp" x="720" y="-20"><tspan class="q">♩</tspan>=186</text>
<text class="mn" x="0" y="-7.5">65</text><text class="mn" x="240" y="-7.5">66</text><text class="mn" x="480" y="-7.5">67</text><text class="mn" x="720" y="-7.5">68</text>
<g class="bn"><text class="p1" x="238.5" y="76.5">193</text><text class="p2" x="238.5" y="89.5">80690</text><text class="p3" x="238.5" y="102.5">11.73%</text><text class="p1" x="478.5" y="76.5">224</text><text class="p2" x="478.5" y="89.5">83378</text><text class="p3" x="478.5" y="102.5">0.00%</text><text class="p1" x="718.5" y="76.5">178</text><text class="p2" x="718.5" y="89.5">85514</text><text class="p3" x="718.5" y="102.5">0.00%</text><text class="p1" x="958.5" y="76.5">200</text><text class="p2" x="958.5" y="89.5">87914</text><text class="p3" x="958.5" y="102.5">23.44%</text></g>
</g>

<g id="row18" transform="translate(31.5,2602.5)">
<use href="#staff"/>
<g class="nt">
<g class="y" transform="translate(0,30)"><circle cx="0" r="5"/><circle cx="30" r="5"/><circle cx="60" r="5"/><circle cx="90" r="5"/><circle cx="120" r="5"/><circle cx="150" r="5"/><circle cx="180" r="5"/><circle cx="210" r="5"/><circle cx="240" r="5"/><circle cx="270" r="5"/><circle cx="300" r="5"/><circle cx="330" r="5"/><circle cx="360" r="5"/><circle cx="390" r="5"/><circle cx="420" r="5"/><circle cx="450" r="5"/><circle cx="480" r="5"/><circle cx="510" r="5"/><circle cx="540" r="5"/><circle cx="570" r="5"/><circle cx="600" r="5"/><circle cx="630" r="5"/><circle cx="660" r="5"/><circle cx="690" r="5"/><circle cx="720" r="5"/><circle cx="750" r="5"/><circle cx="780" r="5"/><circle cx="810" r="5"/><circle cx="840" r="5"/><circle cx="870" r="5"/><circle cx="900" r="5"/><circle cx="930" r="5"/></g>
</g>
<rect class="ob" x="0" y="0" width="464.4" height="60"/><rect class="op" x="464.4" y="0" width="15.6" height="60"/>
<text class="tp" x="0" y="-20"><tspan class="q">♩</tspan>=181</text><text class="tp" x="240" y="-20"><tspan class="q">♩</tspan>=187</text><text class="tp" x="480" y="-20"><tspan class="q">♩</tspan>=182</text><text class="tp" x="720" y="-20"><tspan class="q">♩</tspan>=189</text>
<text class="mn" x="0" y="-7.5">69</text><text class="mn" x="240" y="-7.5">70</text><text class="mn" x="480" y="-7.5">71</text><text class="mn" x="720" y="-7.5">72</text>
<g class="bn"><text class="p1" x="238.5" y="76.5">200</text><text class="p2" x="238.5" y="89.5">90314</text><text class="p3" x="238.5" y="102.5">10.94%</text><text class="p1" x="478.5" y="76.5">200</text><text class="p2" x="478.5" y="89.5">92714</text><text class="p3" x="478.5" y="102.5">0.00%</text><text class="p1" x="718.5" y="76.5">200</text><text class="p2" x="718.5" y="89.5">94064</text><text class="p3" x="718.5" y="102.5">0.00%</text><text class="p1" x="958.5" y="76.5">200</text><text class="p2" x="958.5" y="89.5">95264</text><text class="p3" x="958.5" y="102.5">0.00%</text></g>
</g>

<g id="row19" transform="translate(31.5,2743.5)">
<rect class="yb" x="720" y="-10.5" width="210" height="81.5"/>
<use href="#staff"/>
<g class="nt">
<g class="y" transform="translate(0,30)"><circle cx="0" r="5"/><circle cx="30" r="5"/><circle cx="60" r="5"/><circle cx="90" r="5"/><circle cx="120" r="5"/><circle cx="150" r="5"/><circle cx="180" r="5"/><circle cx="210" r="5"/><circle cx="240" r="5"/><circle cx="270" r="5"/><circle cx="300" r="5"/><circle cx="330" r="5"/><circle cx="360" r="5"/><circle cx="390" r="5"/><circle cx="420" r="5"/></g>
<g class="o" transform="translate(0,60)"><circle cx="450" r="5"/><circle cx="480" r="5"/><circle cx="510" r="5"/><circle cx="540" r="5"/><circle cx="570" r="5"/><circle cx="600" r="5"/><circle cx="630" r="5"/><circle cx="660" r="5"/><circle cx="690" r="5"/><use href="#st" x="720"/><use href="#st" x="750"/><use href="#st" x="780"/><use href="#st" x="810"/><use href="#st" x="840"/><use href="#st" x="870"/><use href="#st" x="900"/><use href="#st" x="930"/></g>
</g>
<rect class="og" x="720" y="0" width="210" height="60"/>
<text class="tp" x="0" y="-20"><tspan class="q">♩</tspan>=183</text><text class="tp" x="240" y="-20"><tspan class="q">♩</tspan>=194</text><text class="tp" x="480" y="-20"><tspan class="q">♩</tspan>=183</text><text class="tp" x="720" y="-20"><tspan class="q">♩</tspan>=198</text>
<text class="mn" x="0" y="-7.5">73</text><text class="mn" x="240" y="-7.5">74</text><text class="mn" x="480" y="-7.5">75</text><text class="mn" x="720" y="-7.5">76</text>
<g class="bn"><text class="p1" x="238.5" y="76.5">200</text><text class="p2" x="238.5" y="89.5">96464</text><text class="p3" x="238.5" y="102.5">0.00%</text><text class="p1" x="478.5" y="76.5">200</text><text class="p2" x="478.5" y="89.5">97664</text><text class="p3" x="478.5" y="102.5">0.00%</text><text class="p1" x="718.5" y="76.5">200</text><text class="p2" x="718.5" y="89.5">98864</text><text class="p3" x="718.5" y="102.5">0.00%</text><text class="p1" x="958.5" y="76.5">200</text><text class="p2" x="958.5" y="89.5">100064</text><text class="p3" x="958.5" y="102.5">25.00%</text></g>
</g>

<g id="row20" transform="translate(31.5,2884.5)">
<use href="#staff"/>
<g class="nt">
<g class="o" transform="translate(0,60)"><circle cx="0" r="5"/><circle cx="30" r="5"/><circle cx="60" r="5"/><circle cx="90" r="5"/><circle cx="120" r="5"/><circle cx="150" r="5"/><circle cx="180" r="5"/><circle cx="210" r="5"/><circle cx="240" r="5"/><circle cx="270" r="5"/><circle cx="300" r="5"/><circle cx="330" r="5"/><circle cx="360" r="5"/><circle cx="390" r="5"/><circle cx="420" r="5"/><circle cx="450" r="5"/><circle cx="480" r="5"/><circle cx="510" r="5"/><circle cx="540" r="5"/><circle cx="570" r="5"/><circle cx="600" r="5"/><circle cx="630" r="5"/><circle cx="660" r="5"/><circle cx="690" r="5"/><circle cx="720" r="5"/><circle cx="750" r="5"/><circle cx="780" r="5"/><circle cx="810" r="5"/><circle cx="840" r="5"/><circle cx="870" r="5"/><circle cx="900" r="5"/><circle cx="930" r="5"/></g>
</g>
<rect class="op" x="0" y="0" width="11.8" height="60"/><rect class="ob" x="11.8" y="0" width="948.2" height="60"/>
<text class="tp" x="0" y="-20"><tspan class="q">♩</tspan>=185</text><text class="tp" x="240" y="-20"><tspan class="q">♩</tspan>=196</text><text class="tp" x="480" y="-20"><tspan class="q">♩</tspan>=187</text><text class="tp" x="720" y="-20"><tspan class="q">♩</tspan>=196</text>
<text class="mn" x="0" y="-7.5">77</text><text class="mn" x="240" y="-7.5">78</text><text class="mn" x="480" y="-7.5">79</text><text class="mn" x="720" y="-7.5">80</text>
<g class="bn"><text class="p1" x="238.5" y="76.5">200</text><text class="p2" x="238.5" y="89.5">102464</text><text class="p3" x="238.5" y="102.5">13.15%</text><text class="p1" x="478.5" y="76.5">200</text><text class="p2" x="478.5" y="89.5">104864</text><text class="p3" x="478.5" y="102.5">0.65%</text><text class="p1" x="718.5" y="76.5">200</text><text class="p2" x="718.5" y="89.5">107264</text><text class="p3" x="718.5" y="102.5">0.00%</text><text class="p1" x="958.5" y="76.5">200</text><text class="p2" x="958.5" y="89.5">109664</text><text class="p3" x="958.5" y="102.5">0.00%</text></g>
</g>

<g id="row21" transform="translate(31.5,3025.5)">
<use href="#staff"/>
<rect class="o" x="180" y="57" width="45" height="6"/><rect class="o" x="330" y="57" width="45" height="6"/><rect class="b" x="480" y="42" width="60" height="6"/>
<g class="nt">
<g class="b" transform="translate(0,45)"><circle cx="450" r="5"/><circle cx="480" r="5"/></g>
<g class="o" transform="translate(0,60)"><circle cx="0" r="5"/><circle cx="30" r="5"/><circle cx="60" r="5"/><circle cx="90" r="5"/><circle cx="120" r="5"/><circle cx="150" r="5"/><circle cx="180" r="5"/><circle cx="240" r="5"/><circle cx="270" r="5"/><circle cx="300" r="5"/><circle cx="330" r="5"/><circle cx="390" r="5"/><circle cx="420" r="5"/></g>
</g>
<rect class="ob" x="0" y="0" width="11.8" height="60"/><rect class="op" x="11.8" y="0" width="18.2" height="60"/>
<text class="tp" x="0" y="-20"><tspan class="q">♩</tspan>=188</text><text class="tp" x="240" y="-20"><tspan class="q">♩</tspan>=201</text><text class="tp" x="480" y="-20"><tspan class="q">♩</tspan>=180</text>
<text class="mn" x="0" y="-7.5">81</text><text class="mn" x="240" y="-7.5">82</text><text class="mn" x="480" y="-7.5">83</text><text class="mn" x="720" y="-7.5">84</text>
<g class="bn"><text class="p1" x="238.5" y="76.5">184</text><text class="p2" x="238.5" y="89.5">111068</text><text class="p3" x="238.5" y="102.5">0.00%</text><text class="p1" x="478.5" y="76.5">184</text><text class="p2" x="478.5" y="89.5">112172</text><text class="p3" x="478.5" y="102.5">0.00%</text><text class="p1" x="718.5" y="76.5">37</text><text class="p2" x="718.5" y="89.5">112394</text><text class="p3" x="718.5" y="102.5">0.00%</text><text class="p1" x="958.5" y="76.5">0</text><text class="p2" x="958.5" y="89.5">112394</text><text class="p3" x="958.5" y="102.5">0.00%</text></g>
</g>

<g id="row22" transform="translate(31.5,3166.5)">
<use href="#staff"/>
<rect class="r" x="0" y="12" width="60" height="6"/><rect class="y" x="210" y="27" width="60" height="6"/><rect class="b" x="480" y="42" width="60" height="6"/><rect class="b" x="600" y="42" width="60" height="6"/><rect class="b" x="720" y="42" width="60" height="6"/><rect class="b" x="840" y="42" width="45" height="6"/>
<g class="nt">
<g class="g"><circle cx="900" r="5"/></g>
<g class="r" transform="translate(0,15)"><circle cx="0" r="5"/></g>
<g class="y" transform="translate(0,30)"><circle cx="210" r="5"/></g>
<g class="b" transform="translate(0,45)"><circle cx="480" r="5"/><circle cx="600" r="5"/><circle cx="720" r="5"/><circle cx="840" r="5"/></g>
</g>
<text class="tp" x="0" y="-20"><tspan class="q">♩</tspan>=181</text><text class="tp" x="480" y="-20"><tspan class="q">♩</tspan>=185</text><text class="tp" x="720" y="-20"><tspan class="q">♩</tspan>=187</text>
<text class="mn" x="0" y="-7.5">85</text><text class="mn" x="240" y="-7.5">86</text><text class="mn" x="480" y="-7.5">87</text><text class="mn" x="720" y="-7.5">88</text>
<g class="bn"><text class="p1" x="238.5" y="76.5">68</text><text class="p2" x="238.5" y="89.5">112802</text><text class="p3" x="238.5" y="102.5">0.00%</text><text class="p1" x="478.5" y="76.5">6</text><text class="p2" x="478.5" y="89.5">112838</text><text class="p3" x="478.5" y="102.5">0.00%</text><text class="p1" x="718.5" y="76.5">74</text><text class="p2" x="718.5" y="89.5">113282</text><text class="p3" x="718.5" y="102.5">0.00%</text><text class="p1" x="958.5" y="76.5">96</text><text class="p2" x="958.5" y="89.5">113858</text><text class="p3" x="958.5" y="102.5">0.00%</text></g>
</g>

<g id="row23" transform="translate(31.5,3307.5)">
<rect class="yb" x="0" y="-10.5" width="210" height="81.5"/>
<use href="#staff"/>
<rect class="y" x="300" y="27" width="45" height="6"/><rect class="b" x="480" y="42" width="45" height="6"/><rect class="b" x="600" y="42" width="45" height="6"/>
<g class="nt">
<g class="g"><use href="#st" x="30"/><use href="#st" x="90"/><use href="#st" x="150"/><circle cx="930" r="5"/></g>
<g class="r" transform="translate(0,15)"><use href="#st" x="0"/><use href="#st" x="60"/><use href="#st" x="120"/><use href="#st" x="180"/></g>
<g class="y" transform="translate(0,30)"><use href="#st" x="210"/><circle cx="240" r="5"/><circle cx="270" r="5"/><circle cx="300" r="5"/><circle cx="360" r="5"/><circle cx="390" r="5"/><circle cx="420" r="5"/><circle cx="450" r="5"/></g>
<g class="b" transform="translate(0,45)"><circle cx="480" r="5"/><circle cx="540" r="5"/><circle cx="570" r="5"/><circle cx="600" r="5"/><circle cx="660" r="5"/><circle cx="690" r="5"/><circle cx="720" r="5"/><circle cx="750" r="5"/><circle cx="780" r="5"/><circle cx="810" r="5"/><circle cx="840" r="5"/><circle cx="870" r="5"/><circle cx="900" r="5"/></g>
</g>
<rect class="og" x="0" y="0" width="210" height="60"/>
<text class="tp" x="0" y="-20"><tspan class="q">♩</tspan>=189</text><text class="tp" x="240" y="-20"><tspan class="q">♩</tspan>=195</text><text class="tp" x="480" y="-20"><tspan class="q">♩</tspan>=184</text><text class="tp" x="720" y="-20"><tspan class="q">♩</tspan>=186</text>
<text class="mn" x="0" y="-7.5">89</text><text class="mn" x="240" y="-7.5">90</text><text class="mn" x="480" y="-7.5">91</text><text class="mn" x="720" y="-7.5">92</text>
<g class="bn"><text class="p1" x="238.5" y="76.5">200</text><text class="p2" x="238.5" y="89.5">115058</text><text class="p3" x="238.5" y="102.5">25.00%</text><text class="p1" x="478.5" y="76.5">184</text><text class="p2" x="478.5" y="89.5">116162</text><text class="p3" x="478.5" y="102.5">25.00%</text><text class="p1" x="718.5" y="76.5">168</text><text class="p2" x="718.5" y="89.5">117170</text><text class="p3" x="718.5" y="102.5">25.00%</text><text class="p1" x="958.5" y="76.5">200</text><text class="p2" x="958.5" y="89.5">118370</text><text class="p3" x="958.5" y="102.5">25.00%</text></g>
</g>

<g id="row24" transform="translate(31.5,3448.5)">
<use href="#staff"/>
<g class="nt">
<g class="g"><circle cx="930" r="5"/></g>
<g class="r" transform="translate(0,15)"><circle cx="0" r="5"/><circle cx="30" r="5"/><circle cx="60" r="5"/><circle cx="90" r="5"/><circle cx="120" r="5"/><circle cx="150" r="5"/><circle cx="180" r="5"/></g>
<g class="y" transform="translate(0,30)"><circle cx="210" r="5"/><circle cx="240" r="5"/><circle cx="270" r="5"/><circle cx="300" r="5"/><circle cx="330" r="5"/><circle cx="360" r="5"/><circle cx="390" r="5"/><circle cx="420" r="5"/><circle cx="450" r="5"/></g>
<g class="b" transform="translate(0,45)"><circle cx="480" r="5"/><circle cx="510" r="5"/><circle cx="540" r="5"/><circle cx="570" r="5"/><circle cx="600" r="5"/><circle cx="630" r="5"/><circle cx="660" r="5"/><circle cx="690" r="5"/><circle cx="720" r="5"/><circle cx="750" r="5"/><circle cx="780" r="5"/><circle cx="810" r="5"/><circle cx="840" r="5"/><circle cx="870" r="5"/><circle cx="900" r="5"/></g>
</g>
<text class="tp" x="0" y="-20"><tspan class="q">♩</tspan>=182</text><text class="tp" x="240" y="-20"><tspan class="q">♩</tspan>=187</text><text class="tp" x="480" y="-20"><tspan class="q">♩</tspan>=182</text><text class="tp" x="720" y="-20"><tspan class="q">♩</tspan>=186</text>
<text class="mn" x="0" y="-7.5">93</text><text class="mn" x="240" y="-7.5">94</text><text class="mn" x="480" y="-7.5">95</text><text class="mn" x="720" y="-7.5">96</text>
<g class="bn"><text class="p1" x="238.5" y="76.5">200</text><text class="p2" x="238.5" y="89.5">119570</text><text class="p3" x="238.5" y="102.5">25.00%</text><text class="p1" x="478.5" y="76.5">200</text><text class="p2" x="478.5" y="89.5">120770</text><text class="p3" x="478.5" y="102.5">25.00%</text><text class="p1" x="718.5" y="76.5">200</text><text class="p2" x="718.5" y="89.5">121970</text><text class="p3" x="718.5" y="102.5">25.00%</text><text class="p1" x="958.5" y="76.5">200</text><text class="p2" x="958.5" y="89.5">123170</text><text class="p3" x="958.5" y="102.5">25.00%</text></g>
</g>

<g id="row25" transform="translate(31.5,3589.5)">
<use href="#staff"/>
<g class="nt">
<g class="g"><circle cx="930" r="5"/></g>
<g class="r" transform="translate(0,15)"><use href="#st" x="0"/><use href="#st" x="30"/><use href="#st" x="60"/><use href="#st" x="90"/><use href="#st" x="120"/><use href="#st" x="150"/><use href="#st" x="180"/></g>
<g class="y" transform="translate(0,30)"><use href="#st" x="210"/><circle cx="240" r="5"/><circle cx="270" r="5"/><circle cx="300" r="5"/><circle cx="330" r="5"/><circle cx="360" r="5"/><circle cx="390" r="5"/><circle cx="420" r="5"/><circle cx="450" r="5"/></g>
<g class="b" transform="translate(0,45)"><circle cx="480" r="5"/><circle cx="510" r="5"/><circle cx="540" r="5"/><circle cx="570" r="5"/><circle cx="600" r="5"/><circle cx="630" r="5"/><circle cx="660" r="5"/><circle cx="690" r="5"/><circle cx="720" r="5"/><circle cx="750" r="5"/><circle cx="780" r="5"/><circle cx="810" r="5"/><circle cx="840" r="5"/><circle cx="870" r="5"/><circle cx="900" r="5"/></g>
</g>
<rect class="og" x="0" y="0" width="210" height="60"/><rect class="op" x="720" y="0" width="10.7" height="60"/><rect class="ob" x="730.7" y="0" width="229.3" height="60"/>
<text class="tp" x="0" y="-20"><tspan class="q">♩</tspan>=186</text><text class="tp" x="240" y="-20"><tspan class="q">♩</tspan>=198</text><text class="tp" x="480" y="-20"><tspan class="q">♩</tspan>=184</text><text class="tp" x="720" y="-20"><tspan class="q">♩</tspan>=189</text>
<text class="mn" x="0" y="-7.5">97</text><text class="mn" x="240" y="-7.5">98</text><text class="mn" x="480" y="-7.5">99</text><text class="mn" x="720" y="-7.5">100</text>
<g class="bn"><text class="p1" x="238.5" y="76.5">200</text><text class="p2" x="238.5" y="89.5">124370</text><text class="p3" x="238.5" y="102.5">50.00%</text><text class="p1" x="478.5" y="76.5">200</text><text class="p2" x="478.5" y="89.5">125570</text><text class="p3" x="478.5" y="102.5">50.00%</text><text class="p1" x="718.5" y="76.5">200</text><text class="p2" x="718.5" y="89.5">126770</text><text class="p3" x="718.5" y="102.5">50.00%</text><text class="p1" x="958.5" y="76.5">200</text><text class="p2" x="958.5" y="89.5">129170</text><text class="p3" x="958.5" y="102.5">38.12%</text></g>
</g>

<g id="row26" transform="translate(31.5,3730.5)">
<use href="#staff"/>
<g class="nt">
<g class="g"><circle cx="930" r="5"/></g>
<g class="r" transform="translate(0,15)"><circle cx="0" r="5"/><circle cx="30" r="5"/><circle cx="60" r="5"/><circle cx="90" r="5"/><circle cx="120" r="5"/><circle cx="150" r="5"/><circle cx="180" r="5"/></g>
<g class="y" transform="translate(0,30)"><circle cx="210" r="5"/><circle cx="240" r="5"/><circle cx="270" r="5"/><circle cx="300" r="5"/><circle cx="330" r="5"/><circle cx="360" r="5"/><circle cx="390" r="5"/><circle cx="420" r="5"/><circle cx="450" r="5"/></g>
<g class="b" transform="translate(0,45)"><circle cx="480" r="5"/><circle cx="510" r="5"/><circle cx="540" r="5"/><circle cx="570" r="5"/><circle cx="600" r="5"/><circle cx="630" r="5"/><circle cx="660" r="5"/><circle cx="690" r="5"/><circle cx="720" r="5"/><circle cx="750" r="5"/><circle cx="780" r="5"/><circle cx="810" r="5"/><circle cx="840" r="5"/><circle cx="870" r="5"/><circle cx="900" r="5"/></g>
</g>
<rect class="ob" x="0" y="0" width="960" height="60"/>
<text class="tp" x="0" y="-20"><tspan class="q">♩</tspan>=186</text><text class="tp" x="240" y="-20"><tspan class="q">♩</tspan>=189</text><text class="tp" x="480" y="-20"><tspan class="q">♩</tspan>=184</text><text class="tp" x="720" y="-20"><tspan class="q">♩</tspan>=187</text>
<text class="mn" x="0" y="-7.5">101</text><text class="mn" x="240" y="-7.5">102</text><text class="mn" x="480" y="-7.5">103</text><text class="mn" x="720" y="-7.5">104</text>
<g class="bn"><text class="p1" x="238.5" y="76.5">200</text><text class="p2" x="238.5" y="89.5">131570</text><text class="p3" x="238.5" y="102.5">25.62%</text><text class="p1" x="478.5" y="76.5">200</text><text class="p2" x="478.5" y="89.5">133970</text><text class="p3" x="478.5" y="102.5">13.12%</text><text class="p1" x="718.5" y="76.5">200</text><text class="p2" x="718.5" y="89.5">136370</text><text class="p3" x="718.5" y="102.5">0.62%</text><text class="p1" x="958.5" y="76.5">200</text><text class="p2" x="958.5" y="89.5">138770</text><text class="p3" x="958.5" y="102.5">0.00%</text></g>
</g>

<g id="row27" transform="translate(31.5,3871.5)">
<use href="#staff"/>
<rect class="r" x="930" y="12" width="30" height="6"/>
<g class="nt">
<g class="g"><circle cx="900" r="5"/></g>
<g class="r" transform="translate(0,15)"><circle cx="0" r="5"/><circle cx="30" r="5"/><circle cx="60" r="5"/><circle cx="90" r="5"/><circle cx="120" r="5"/><circle cx="150" r="5"/><circle cx="180" r="5"/><circle cx="930" r="5"/></g>
<g class="y" transform="translate(0,30)"><circle cx="210" r="5"/><circle cx="240" r="5"/><circle cx="270" r="5"/><circle cx="300" r="5"/><circle cx="330" r="5"/><circle cx="360" r="5"/><circle cx="390" r="5"/><circle cx="420" r="5"/><circle cx="450" r="5"/></g>
<g class="b" transform="translate(0,45)"><circle cx="480" r="5"/><circle cx="510" r="5"/><circle cx="540" r="5"/><circle cx="570" r="5"/><circle cx="600" r="5"/><circle cx="630" r="5"/><circle cx="660" r="5"/><circle cx="690" r="5"/><circle cx="720" r="5"/><circle cx="750" r="5"/><circle cx="780" r="5"/><circle cx="810" r="5"/><circle cx="840" r="5"/><circle cx="870" r="5"/></g>
</g>
<rect class="ob" x="0" y="0" width="251.5" height="60"/><rect class="op" x="251.5" y="0" width="18.3" height="60"/>
<text class="tp" x="0" y="-20"><tspan class="q">♩</tspan>=190</text><text class="tp" x="240" y="-20"><tspan class="q">♩</tspan>=209</text><text class="tp" x="360" y="-20"><tspan class="q">♩</tspan>=200</text><text class="tp" x="480" y="-20"><tspan class="q">♩</tspan>=181</text><text class="tp" x="720" y="-20"><tspan class="q">♩</tspan>=183</text><text class="tp" x="900" y="-20"><tspan class="q">♩</tspan>=191</text>
<text class="mn" x="0" y="-7.5">105</text><text class="mn" x="240" y="-7.5">106</text><text class="mn" x="480" y="-7.5">107</text><text class="mn" x="720" y="-7.5">108</text>
<g class="bn"><text class="p1" x="238.5" y="76.5">200</text><text class="p2" x="238.5" y="89.5">141170</text><text class="p3" x="238.5" y="102.5">0.00%</text><text class="p1" x="478.5" y="76.5">200</text><text class="p2" x="478.5" y="89.5">142670</text><text class="p3" x="478.5" y="102.5">0.00%</text><text class="p1" x="718.5" y="76.5">200</text><text class="p2" x="718.5" y="89.5">143870</text><text class="p3" x="718.5" y="102.5">0.00%</text><text class="p1" x="958.5" y="76.5">206</text><text class="p2" x="958.5" y="89.5">145106</text><text class="p3" x="958.5" y="102.5">0.00%</text></g>
</g>

<g id="row28" transform="translate(31.5,4012.5)">
<use href="#staff"/>
<rect class="r" x="0" y="12" width="15" height="6"/><rect class="y" x="210" y="27" width="45" height="6"/><rect class="b" x="450" y="42" width="45" height="6"/><rect class="r" x="930" y="12" width="30" height="6"/>
<g class="nt">
<g class="g"><circle cx="420" r="5"/><circle cx="900" r="5"/></g>
<g class="r" transform="translate(0,15)"><circle cx="30" r="5"/><circle cx="60" r="5"/><circle cx="90" r="5"/><circle cx="120" r="5"/><circle cx="150" r="5"/><circle cx="180" r="5"/><circle cx="930" r="5"/></g>
<g class="y" transform="translate(0,30)"><circle cx="210" r="5"/><circle cx="270" r="5"/><circle cx="300" r="5"/><circle cx="330" r="5"/><circle cx="360" r="5"/><circle cx="390" r="5"/></g>
<g class="b" transform="translate(0,45)"><circle cx="450" r="5"/><circle cx="510" r="5"/><circle cx="540" r="5"/><circle cx="570" r="5"/><circle cx="600" r="5"/><circle cx="630" r="5"/><circle cx="660" r="5"/><circle cx="690" r="5"/><circle cx="720" r="5"/><circle cx="750" r="5"/><circle cx="780" r="5"/><circle cx="810" r="5"/><circle cx="840" r="5"/><circle cx="870" r="5"/></g>
</g>
<text class="tp" x="180" y="-20"><tspan class="q">♩</tspan>=194</text><text class="tp" x="540" y="-20"><tspan class="q">♩</tspan>=188</text><text class="tp" x="720" y="-20"><tspan class="q">♩</tspan>=184</text><text class="tp" x="900" y="-20"><tspan class="q">♩</tspan>=193</text>
<text class="mn" x="0" y="-7.5">109</text><text class="mn" x="240" y="-7.5">110</text><text class="mn" x="480" y="-7.5">111</text><text class="mn" x="720" y="-7.5">112</text>
<g class="bn"><text class="p1" x="238.5" y="76.5">184</text><text class="p2" x="238.5" y="89.5">146210</text><text class="p3" x="238.5" y="102.5">0.00%</text><text class="p1" x="478.5" y="76.5">184</text><text class="p2" x="478.5" y="89.5">147314</text><text class="p3" x="478.5" y="102.5">0.00%</text><text class="p1" x="718.5" y="76.5">178</text><text class="p2" x="718.5" y="89.5">148382</text><text class="p3" x="718.5" y="102.5">0.00%</text><text class="p1" x="958.5" y="76.5">206</text><text class="p2" x="958.5" y="89.5">149618</text><text class="p3" x="958.5" y="102.5">0.00%</text></g>
</g>

<g id="row29" transform="translate(31.5,4153.5)">
<use href="#staff"/>
<rect class="r" x="0" y="12" width="15" height="6"/><rect class="y" x="210" y="27" width="45" height="6"/><rect class="b" x="450" y="42" width="270" height="6"/>
<g class="nt">
<g class="r" transform="translate(0,15)"><circle cx="30" r="5"/><circle cx="60" r="5"/><circle cx="90" r="5"/><circle cx="120" r="5"/><circle cx="150" r="5"/><circle cx="180" r="5"/></g>
<g class="y" transform="translate(0,30)"><circle cx="210" r="5"/><circle cx="270" r="5"/><circle cx="300" r="5"/><circle cx="330" r="5"/><circle cx="360" r="5"/><circle cx="405" r="5"/></g>
<g class="b" transform="translate(0,45)"><circle cx="450" r="5"/></g>
</g>
<text class="tp" x="180" y="-20"><tspan class="q">♩</tspan>=197</text><text class="tp" x="210" y="-20"><tspan class="q">♩</tspan>=213</text><text class="tp" x="270" y="-20"><tspan class="q">♩</tspan>=180</text><text class="tp" x="450" y="-20"><tspan class="q">♩</tspan>=174</text>
<text class="mn" x="0" y="-7.5">113</text><text class="mn" x="240" y="-7.5">114</text><text class="mn" x="480" y="-7.5">115</text><text class="mn" x="720" y="-7.5">116</text>
<g class="bn"><text class="p1" x="238.5" y="76.5">184</text><text class="p2" x="238.5" y="89.5">150722</text><text class="p3" x="238.5" y="102.5">0.00%</text><text class="p1" x="478.5" y="76.5">159</text><text class="p2" x="478.5" y="89.5">151676</text><text class="p3" x="478.5" y="102.5">0.00%</text><text class="p1" x="718.5" y="76.5">48</text><text class="p2" x="718.5" y="89.5">151964</text><text class="p3" x="718.5" y="102.5">0.00%</text><text class="p1" x="958.5" y="76.5">0</text><text class="p2" x="958.5" y="89.5">151964</text><text class="p3" x="958.5" y="102.5">0.00%</text></g>
</g>
</g>
</svg>
